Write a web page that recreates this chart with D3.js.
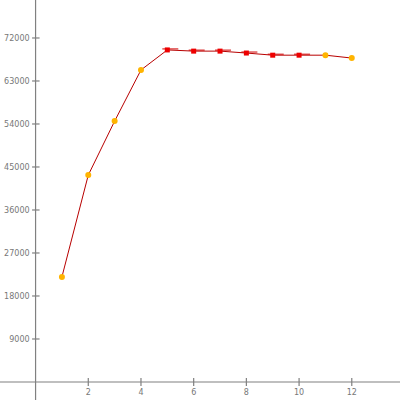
<!DOCTYPE html>
<html>
<head>
<meta charset="utf-8">
<script src="https://cdn.jsdelivr.net/npm/d3@7"></script>
<style>
  body { margin: 0; background: #fff; }
  svg { display: block; }
</style>
</head>
<body>
<div id="chart"></div>
<script>
// data
var months = [1, 2, 3, 4, 5, 6, 7, 8, 9, 10, 11, 12];
var values = [22000, 43300, 54600, 65300, 69500, 69250, 69250, 68850, 68400, 68400, 68400, 67800];
var kinds = ["o", "o", "o", "o", "r", "r", "r", "r", "r", "r", "o", "o"];
var xTicks = [2, 4, 6, 8, 10, 12];
var yTicks = [9000, 18000, 27000, 36000, 45000, 54000, 63000, 72000];

var width = 400, height = 400;

var svg = d3.select("#chart")
  .append("svg")
  .attr("width", width)
  .attr("height", height);

var x = d3.scaleLinear()
  .domain([-1.35, 13.83])
  .range([0, width]);

var y = d3.scaleLinear()
  .domain([-3770, 79950])
  .range([height, 0]);

var axisColor = "#808080";

// axis lines through the origin
svg.append("line")
  .attr("x1", 0).attr("x2", width)
  .attr("y1", y(0)).attr("y2", y(0))
  .attr("stroke", axisColor).attr("stroke-width", 1.2);

svg.append("line")
  .attr("x1", x(0)).attr("x2", x(0))
  .attr("y1", 0).attr("y2", height)
  .attr("stroke", axisColor).attr("stroke-width", 1.2);

// y ticks
var yt = svg.append("g");
yt.selectAll("line")
  .data(yTicks)
  .enter()
  .append("line")
  .attr("x1", x(0) - 3.5).attr("x2", x(0) + 4)
  .attr("y1", d => y(d)).attr("y2", d => y(d))
  .attr("stroke", axisColor).attr("stroke-width", 1.2);
yt.selectAll("text")
  .data(yTicks)
  .enter()
  .append("text")
  .attr("x", x(0) - 6)
  .attr("y", d => y(d) + 3)
  .attr("text-anchor", "end")
  .style("font-family", "DejaVu Sans")
  .style("font-size", "8px")
  .attr("fill", "#777")
  .text(d => d);

// x ticks
var xt = svg.append("g");
xt.selectAll("line")
  .data(xTicks)
  .enter()
  .append("line")
  .attr("x1", d => x(d)).attr("x2", d => x(d))
  .attr("y1", y(0) - 4).attr("y2", y(0) + 4)
  .attr("stroke", axisColor).attr("stroke-width", 1.2);
xt.selectAll("text")
  .data(xTicks)
  .enter()
  .append("text")
  .attr("x", d => x(d))
  .attr("y", y(0) + 13)
  .attr("text-anchor", "middle")
  .style("font-family", "DejaVu Sans")
  .style("font-size", "8px")
  .attr("fill", "#777")
  .text(d => d);

var pts = months.map((m, i) => ({m: m, v: values[i], k: kinds[i]}));

// the line
svg.append("path")
  .datum(pts)
  .attr("d", d3.line()
    .x(d => x(d.m))
    .y(d => y(d.v)))
  .attr("fill", "none")
  .attr("stroke", "#b80000")
  .attr("stroke-width", 1);

// red markers with their short horizontal bars
var red = pts.filter(d => d.k == "r");
svg.append("g").selectAll("line")
  .data(red)
  .enter()
  .append("line")
  .attr("x1", d => x(d.m) - 5).attr("x2", d => x(d.m) + 11)
  .attr("y1", d => y(d.v) - 1).attr("y2", d => y(d.v) - 1)
  .attr("stroke", "#d00000").attr("stroke-width", 1);
svg.append("g").selectAll("rect")
  .data(red)
  .enter()
  .append("rect")
  .attr("x", d => x(d.m) - 2.5)
  .attr("y", d => y(d.v) - 2.5)
  .attr("width", 5).attr("height", 5)
  .attr("fill", "#ee0000");

// orange markers
svg.append("g").selectAll("circle")
  .data(pts.filter(d => d.k == "o"))
  .enter()
  .append("circle")
  .attr("cx", d => x(d.m))
  .attr("cy", d => y(d.v))
  .attr("r", 3)
  .attr("fill", "#ffb400");
</script>
</body>
</html>
